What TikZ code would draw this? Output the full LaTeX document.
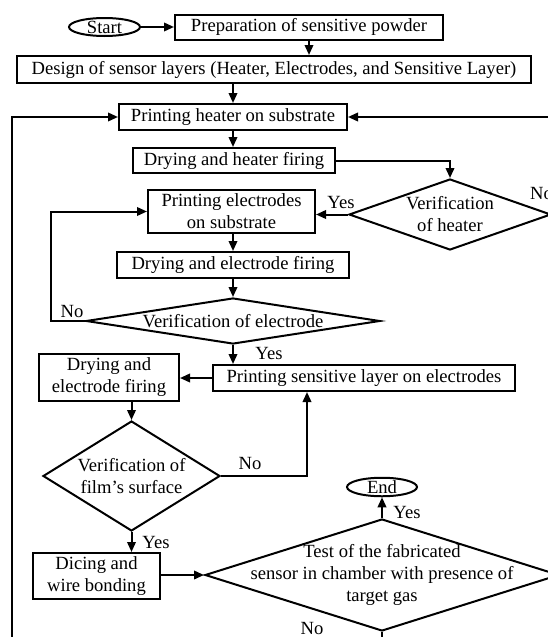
\documentclass[tikz,border=0pt]{standalone}
\usepackage{fontspec}
\setmainfont{Liberation Serif}
\usetikzlibrary{shapes.geometric,arrows.meta}
\begin{document}
\begin{tikzpicture}[x=1pt,y=-1pt,
  every node/.style={font=\fontsize{18.6}{22}\selectfont, inner sep=0pt},
  box/.style={draw, line width=2pt, rectangle, align=center},
  dia/.style={draw, line width=2pt, diamond},
  oval/.style={draw, line width=2pt, ellipse},
  txt/.style={align=center},
  lbl/.style={},
  conn/.style={line width=2pt, -{Triangle[length=10pt,width=8.5pt]}},
]
\useasboundingbox (0,0) rectangle (548,637);
\clip (0,0) rectangle (548,637);

% nodes
\node[oval, minimum width=71pt, minimum height=18pt] (start) at (104.5,27) {Start};
\node[box, minimum width=268pt, minimum height=25pt] (prep) at (309,27) {Preparation of sensitive powder};
\node[box, minimum width=514pt, minimum height=27pt] (design) at (274,69.5) {Design of sensor layers (Heater, Electrodes, and Sensitive Layer)};
\node[box, minimum width=228pt, minimum height=26pt] (heater) at (233,117) {Printing heater on substrate};
\node[box, minimum width=202pt, minimum height=25pt] (dry1) at (234,160.5) {Drying and heater firing};
\node[dia, minimum width=202pt, minimum height=71pt] (vh) at (450,214.5) {};
\node[txt] (vhT) at (vh.center) {Verification\\of heater};
\node[box, minimum width=167pt, minimum height=43pt] (pe) at (231.5,211.5) {Printing electrodes\\on substrate};
\node[box, minimum width=232pt, minimum height=26pt] (dre) at (233,265) {Drying and electrode firing};
\node[dia, minimum width=294pt, minimum height=46pt] (ve) at (233,321) {};
\node[txt] (veT) at (ve.center) {Verification of electrode};
\node[box, minimum width=302pt, minimum height=26pt] (sens) at (364,378) {Printing sensitive layer on electrodes};
\node[box, minimum width=140pt, minimum height=47pt] (dre2) at (109,377.5) {Drying and\\electrode firing};
\node[dia, minimum width=177pt, minimum height=110pt] (vf) at (131.5,476) {};
\node[txt] (vfT) at (vf.center) {Verification of\\film’s surface};
\node[box, minimum width=127pt, minimum height=46pt] (dice) at (96.5,576) {Dicing and\\wire bonding};
\node[dia, minimum width=354pt, minimum height=112pt] (test) at (382,575) {};
\node[txt] (testT) at (test.center) {Test of the fabricated\\sensor in chamber with presence of\\target gas};
\node[oval, minimum width=70pt, minimum height=18pt] (end) at (382,487) {End};

% labels
\node[lbl] (l1) at (341,202) {Yes};
\node[lbl] (l2) at (541.5,193) {No};
\node[lbl] (l3) at (72,311) {No};
\node[lbl] (l4) at (269,353) {Yes};
\node[lbl] (l5) at (250,463) {No};
\node[lbl] (l6) at (156,542) {Yes};
\node[lbl] (l7) at (407,512) {Yes};
\node[lbl] (l8) at (312,628) {No};

% connectors
\draw[conn] (start.east) -- (start.east -| prep.west);
\draw[conn] (prep.south) -- (prep.south |- design.north);
\draw[conn] (heater.north |- design.south) -- (heater.north);
\draw[conn] (heater.south) -- (heater.south |- dry1.north);
\draw[conn] (dry1.east) -| (vh.north);
\draw[conn] (vh.west) -- (vh.west -| pe.east);
\draw[conn] (vh.east) -- ++(20,0) |- (heater.east);
\draw[conn] (dre.north |- pe.south) -- (dre.north);
\draw[conn] (dre.south) -- (ve.north);
\draw[conn] (ve.west) -- ++(-34,0) |- (pe.west);
\draw[conn] (ve.south) -- (ve.south |- sens.north);
\draw[conn] (sens.west) -- (sens.west -| dre2.east);
\draw[conn] (vf.north |- dre2.south) -- (vf.north);
\draw[conn] (vf.east) -| ([xshift=-57pt]sens.south);
\draw[conn] (vf.south) -- (vf.south |- dice.north);
\draw[conn] (test.west -| dice.east) -- (test.west);
\draw[conn] (test.north) -- (end.south);
\draw[conn] (test.south) -- ++(0,30) -| ([xshift=-106pt]heater.west) -- (heater.west);
\end{tikzpicture}
\end{document}
